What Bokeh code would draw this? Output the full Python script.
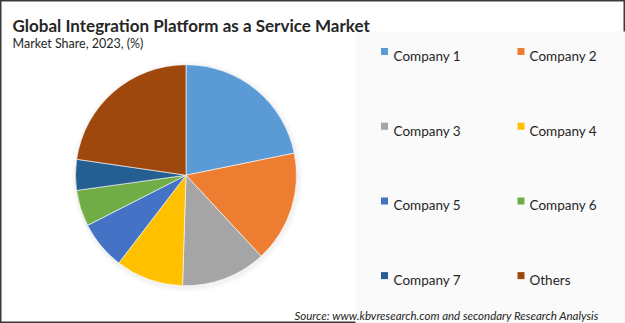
import numpy as np
from bokeh.plotting import figure
from bokeh.models import Range1d, ColumnDataSource
from bokeh.core.properties import value
from bokeh.embed import file_html
from bokeh.resources import INLINE

# ---- data ----
categories = ["Company 1", "Company 2", "Company 3", "Company 4",
              "Company 5", "Company 6", "Company 7", "Others"]
shares = [21.8, 16.3, 12.4, 9.9, 7.1, 5.3, 4.5, 22.7]
colors = ["#5B9BD5", "#ED7D31", "#A5A5A5", "#FFC000",
          "#4472C4", "#70AD47", "#255E91", "#9E480E"]
title_text = "Global Integration Platform as a Service Market"
subtitle_text = "Market Share, 2023, (%)"
source_text = "Source: www.kbvresearch.com and secondary Research Analysis"

# ---- layout ----
W, H = 625, 323
def Y(py):
    return H - py

p = figure(width=W, height=H, x_range=Range1d(0, W), y_range=Range1d(0, H),
           output_backend="svg", toolbar_location=None, min_border=0,
           x_axis_location=None, y_axis_location=None)
p.grid.visible = False
p.background_fill_color = "white"
p.border_fill_color = "white"
p.outline_line_color = "#3a3a3a"
p.outline_line_width = 2

# right grey panel
p.quad(left=[355], right=[W], top=[Y(31)], bottom=[0],
       fill_color="#fafafa", line_color=None)

# pie
cx, cy, r = 185.5, Y(174.7), 110.5
# soft shadow
for k, a in [(5, 0.025), (3.5, 0.035), (2, 0.045)]:
    p.circle(x=[cx + 1], y=[cy - 1.5], radius=r + k, fill_color="#808080",
             fill_alpha=a, line_color=None)

frac = np.array(shares) / np.sum(shares)
cum = np.concatenate([[0.0], np.cumsum(frac)])
start = np.pi / 2 - cum[:-1] * 2 * np.pi
end = np.pi / 2 - cum[1:] * 2 * np.pi
src = ColumnDataSource(dict(start=start, end=end, color=colors, name=categories))
p.wedge(x=cx, y=cy, radius=r, start_angle="start", end_angle="end",
        direction="clock", fill_color="color", line_color="white",
        line_width=0.6, source=src)

# legend (2 columns x 4 rows)
idx = np.arange(len(categories))
col = idx % 2
row = idx // 2
mx = np.where(col == 0, 384.0, 520.5)
tx = np.where(col == 0, 393.0, 529.0)
my = 51.0 + row * 74.7
p.scatter(x=mx, y=Y(my), marker="square", size=7, fill_color=colors,
          line_color=None)
p.text(x=tx, y=Y(my + 4.5), text=categories, text_font=value("Lato"),
       text_font_size="13.5px", text_color="#262626", text_baseline="alphabetic")

# titles
p.text(x=[12], y=[Y(25)], text=[title_text], text_font=value("Lato"),
       text_font_size="17px", text_font_style="bold", text_color="#262626",
       text_baseline="alphabetic")
p.text(x=[12], y=[Y(42.5)], text=[subtitle_text], text_font=value("Lato"),
       text_font_size="12.5px", text_color="#262626", text_baseline="alphabetic")
p.text(x=[294], y=[Y(315)], text=[source_text], text_font=value("Lato"),
       text_font_size="11.5px", text_font_style="italic", text_color="#262626",
       text_baseline="alphabetic")

open("out.html", "w").write(file_html(p, INLINE))
